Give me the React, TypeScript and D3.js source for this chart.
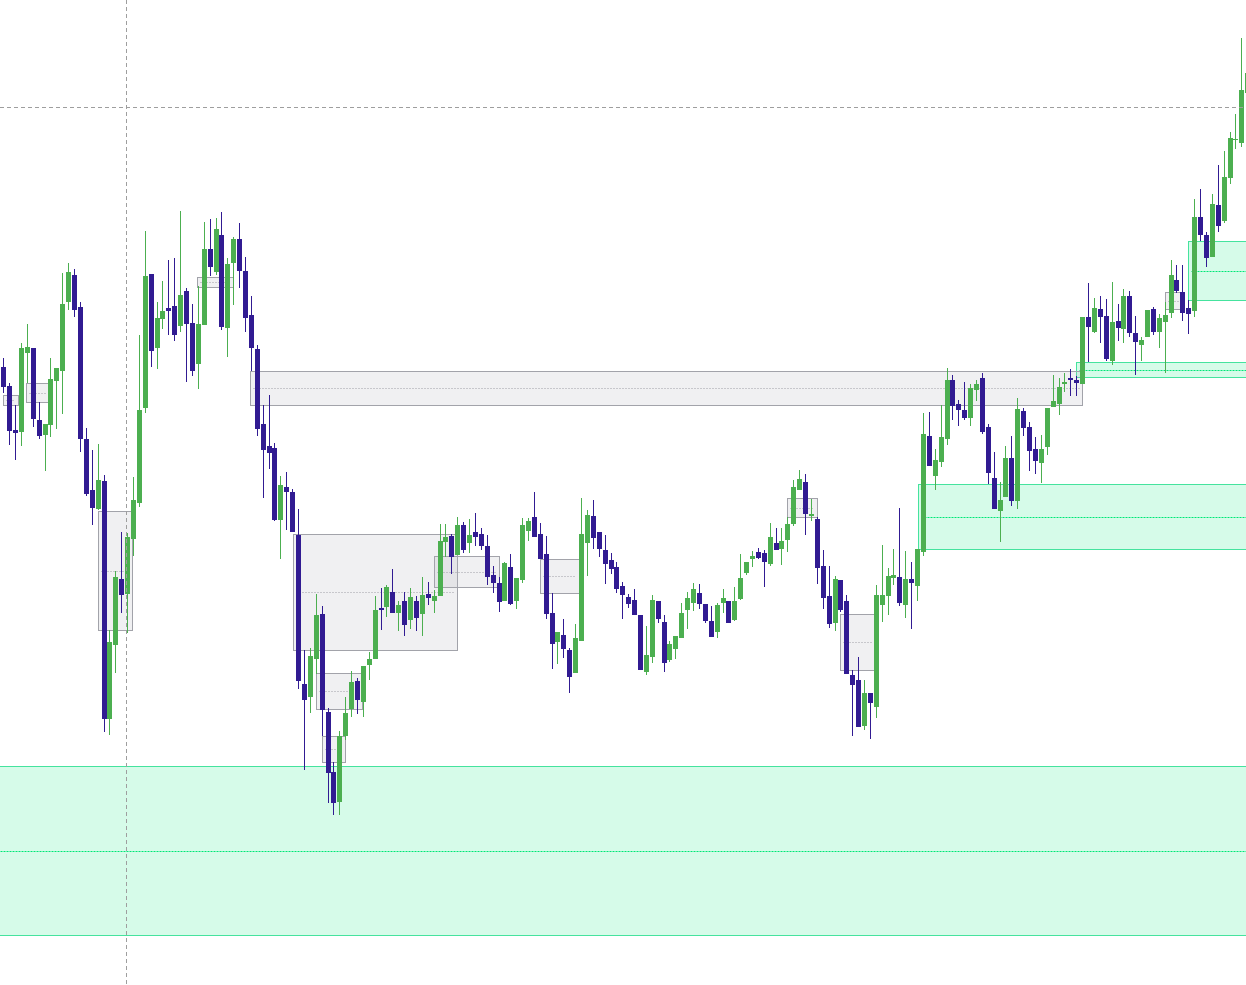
import React from 'react';
import * as d3 from 'd3';

// open, high, low, close
type Candle = [number, number, number, number];

const candles: Candle[] = [
  [633, 642, 607, 613], [614, 617, 555, 569], [570, 595, 540, 567], [568, 657, 554, 652],
  [647, 676, 617, 653], [652, 652, 573, 581], [580, 598, 561, 564], [565, 576, 529, 576],
  [575, 642, 563, 621], [619, 632, 571, 632], [629, 727, 586, 696], [698, 737, 690, 728],
  [725, 731, 683, 690], [693, 698, 548, 561], [561, 572, 504, 506], [510, 550, 475, 492],
  [491, 556, 490, 520], [519, 525, 268, 281], [281, 370, 265, 358], [355, 429, 327, 423],
  [421, 468, 387, 405], [406, 467, 367, 463], [461, 523, 444, 500], [497, 665, 493, 590],
  [592, 769, 587, 724], [726, 726, 633, 649], [652, 698, 631, 682], [681, 719, 671, 689],
  [692, 740, 665, 689], [694, 742, 659, 665], [674, 789, 668, 705], [709, 712, 618, 676],
  [677, 696, 624, 629], [636, 714, 611, 676], [675, 778, 675, 751], [751, 781, 724, 733],
  [728, 782, 725, 771], [765, 788, 670, 673], [672, 742, 643, 736], [737, 763, 695, 761],
  [761, 777, 712, 729], [729, 743, 668, 682], [685, 704, 629, 652], [651, 655, 564, 571],
  [576, 595, 502, 550], [554, 605, 531, 547], [552, 557, 479, 480], [480, 524, 441, 515],
  [513, 528, 470, 508], [508, 511, 468, 468], [465, 491, 311, 319], [316, 350, 230, 300],
  [303, 352, 287, 344], [341, 406, 326, 385], [386, 394, 264, 290], [288, 292, 197, 227],
  [228, 238, 185, 197], [198, 269, 185, 264], [264, 303, 260, 287], [291, 329, 283, 318],
  [319, 322, 286, 300], [298, 334, 283, 334], [335, 348, 320, 341], [341, 404, 341, 390],
  [392, 412, 370, 390], [393, 415, 383, 413], [408, 431, 387, 387], [387, 399, 369, 395],
  [399, 408, 364, 375], [380, 412, 371, 403], [399, 404, 369, 382], [386, 423, 364, 405],
  [406, 418, 395, 402], [399, 410, 387, 404], [404, 476, 404, 459], [458, 476, 443, 463],
  [464, 466, 426, 443], [445, 483, 445, 475], [475, 478, 447, 450], [457, 481, 447, 465],
  [468, 487, 454, 463], [466, 472, 450, 454], [454, 465, 415, 423], [425, 434, 407, 417],
  [417, 423, 388, 398], [399, 438, 399, 437], [433, 446, 395, 396], [399, 422, 391, 422],
  [420, 482, 417, 475], [469, 482, 459, 479], [483, 508, 463, 463], [466, 477, 441, 441],
  [446, 464, 381, 386], [387, 407, 331, 356], [358, 368, 336, 368], [365, 381, 342, 351],
  [350, 352, 307, 323], [327, 376, 327, 362], [359, 502, 359, 466], [457, 490, 424, 485],
  [484, 500, 451, 462], [468, 468, 443, 451], [450, 465, 416, 436], [440, 447, 426, 431],
  [433, 438, 407, 411], [414, 418, 381, 405], [403, 406, 392, 396], [400, 411, 385, 385],
  [385, 385, 330, 330], [328, 374, 325, 345], [343, 405, 337, 400], [399, 399, 377, 381],
  [378, 385, 328, 337], [340, 359, 338, 356], [351, 364, 341, 364], [362, 397, 362, 387],
  [390, 408, 371, 402], [397, 417, 389, 411], [407, 416, 391, 396], [396, 396, 377, 379],
  [379, 394, 363, 363], [368, 397, 362, 395], [397, 411, 387, 402], [399, 399, 377, 377],
  [380, 413, 379, 399], [401, 446, 400, 422], [427, 438, 425, 438], [441, 449, 433, 444],
  [448, 452, 441, 442], [447, 450, 413, 438], [436, 477, 434, 463], [457, 472, 450, 450],
  [451, 472, 435, 459], [460, 483, 448, 476], [476, 520, 474, 513], [510, 530, 510, 521],
  [518, 526, 465, 486], [484, 501, 479, 486], [481, 483, 416, 432], [434, 450, 391, 402],
  [404, 434, 372, 376], [377, 424, 369, 421], [420, 420, 388, 390], [399, 405, 326, 326],
  [325, 330, 264, 315], [320, 343, 273, 273], [274, 320, 270, 307], [307, 307, 261, 297],
  [293, 415, 282, 405], [395, 455, 378, 405], [404, 432, 385, 424], [422, 451, 415, 425],
  [423, 492, 394, 397], [395, 449, 382, 421], [421, 438, 371, 417], [414, 451, 399, 451],
  [448, 587, 444, 566], [564, 588, 534, 534], [524, 551, 510, 540], [538, 595, 533, 563],
  [561, 632, 555, 620], [620, 625, 580, 594], [596, 600, 574, 590], [590, 618, 580, 582],
  [582, 616, 574, 612], [610, 620, 599, 616], [622, 627, 566, 568], [573, 576, 516, 527],
  [522, 548, 491, 491], [489, 518, 458, 500], [503, 554, 503, 542], [542, 564, 494, 499],
  [499, 602, 491, 591], [589, 592, 564, 572], [573, 578, 529, 549], [551, 563, 526, 539],
  [537, 565, 517, 551], [553, 592, 545, 592], [593, 625, 593, 599], [596, 622, 585, 613],
  [616, 627, 608, 618], [622, 631, 604, 620], [620, 624, 604, 617], [616, 683, 616, 683],
  [683, 717, 638, 673], [668, 702, 667, 692], [691, 704, 657, 683], [684, 701, 639, 641],
  [639, 718, 635, 678], [679, 696, 659, 672], [671, 711, 657, 704], [704, 709, 663, 667],
  [667, 684, 625, 658], [655, 663, 639, 660], [663, 690, 663, 690], [691, 693, 665, 668],
  [668, 686, 652, 682], [678, 698, 627, 685], [687, 740, 682, 725], [720, 735, 707, 709],
  [708, 735, 679, 687], [692, 700, 666, 686], [689, 801, 683, 783], [783, 811, 759, 765],
  [765, 768, 733, 742], [743, 806, 743, 796], [795, 835, 768, 774], [779, 849, 777, 823],
  [822, 868, 816, 862], [860, 886, 851, 861], [857, 962, 853, 910], [907, 935, 905, 927],
];

// [start index, end index, top price, bottom price]
const greyZones: [number, number, number, number][] = [
  [0, 2.5, 605, 595],
  [3.9, 7.6, 617, 598],
  [16, 21.8, 489, 370],
  [32.9, 39, 723, 713],
  [41.9, 183, 628.6, 594.6],
  [49.1, 77, 466.5, 350.5],
  [53, 60.9, 327.5, 291],
  [54, 58, 264.3, 238.2],
  [73, 84, 443.7, 412.7],
  [91, 97.7, 440.7, 406.7],
  [133, 138.1, 501.7, 482.7],
  [142, 147.7, 385.7, 329.7],
  [197.1, 200, 708, 690.7],
];

const greenZones: [number, number, number, number][] = [
  [-1, 213, 234, 65],
  [155.1, 213, 515.7, 450.7],
  [182, 213, 637.7, 623.3],
  [201, 213, 758.7, 699.7],
];

const crosshairIndex = 20.8;
const crosshairPrice = 893;

const W = 1246;
const H = 985;
const UP = '#4caf50';
const DOWN = '#311b92';

export default function App() {
  const x = d3.scaleLinear().domain([0, 210]).range([3.3, 1241.3]);
  const y = d3.scaleLinear().domain([15, 1000]).range([H, 0]);
  const px = (i: number) => Math.round(x(i));
  const py = (p: number) => Math.round(y(p));

  const zone = (
    z: [number, number, number, number],
    k: string,
    fill: string,
    stroke: string,
    dot: string,
    dash: string
  ) => {
    const [s, e, top, bot] = z;
    const x0 = px(s) + 0.5;
    const x1 = px(e) + 0.5;
    const y0 = py(top) + 0.5;
    const y1 = py(bot) + 0.5;
    const ym = Math.round(y((top + bot) / 2)) + 0.5;
    return (
      <g key={k}>
        <rect x={x0} y={y0} width={x1 - x0} height={y1 - y0} fill={fill} stroke={stroke} strokeWidth={1} />
        <line x1={x0 + 3} x2={x1 - 3} y1={ym} y2={ym} stroke={dot} strokeWidth={1} strokeDasharray={dash} />
      </g>
    );
  };

  return (
    <svg width={W} height={H} style={{ position: 'absolute', left: 0, top: 0, background: '#fff' }}>
      <rect x={0} y={0} width={W} height={H} fill="#fff" />
      {greenZones.map((z, i) => zone(z, 'g' + i, 'rgba(0,230,118,0.16)', '#45e39e', '#00e676', '2 1'))}
      {greyZones.map((z, i) => zone(z, 'z' + i, 'rgba(178,181,190,0.2)', '#a2a3aa', '#9e9ea6', '1 2'))}
      {candles.map(([o, h, l, c], i) => {
        const cx = px(i);
        const col = c >= o ? UP : DOWN;
        const top = py(Math.max(o, c));
        const bot = py(Math.min(o, c));
        return (
          <g key={i}>
            <rect x={cx} y={py(h)} width={1} height={Math.max(1, py(l) - py(h))} fill={col} />
            <rect x={cx - 2} y={top} width={5} height={Math.max(1, bot - top)} fill={col} />
          </g>
        );
      })}
      <line
        x1={px(crosshairIndex) + 0.5}
        x2={px(crosshairIndex) + 0.5}
        y1={0}
        y2={H}
        stroke="#9e9e9e"
        strokeDasharray="4 3"
      />
      <line
        x1={0}
        x2={W}
        y1={py(crosshairPrice) + 0.5}
        y2={py(crosshairPrice) + 0.5}
        stroke="#9e9e9e"
        strokeDasharray="4 3"
      />
    </svg>
  );
}
